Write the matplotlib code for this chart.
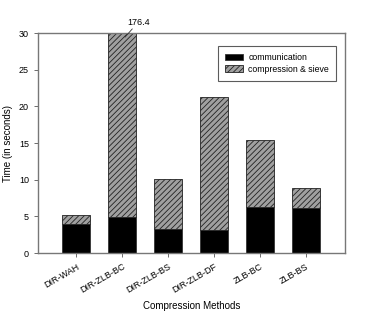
import numpy as np
import matplotlib.pyplot as plt

plt.rcParams['font.family'] = ['Liberation Sans', 'DejaVu Sans']
plt.rcParams['hatch.linewidth'] = 0.6

methods = ['DIR-WAH', 'DIR-ZLB-BC', 'DIR-ZLB-BS', 'DIR-ZLB-DF', 'ZLB-BC', 'ZLB-BS']
communication = [3.9, 4.85, 3.27, 3.2, 6.27, 6.1]
total = [5.2, 176.4, 10.15, 21.3, 15.37, 8.82]
compression = [t - c for t, c in zip(total, communication)]

fig = plt.figure(figsize=(3.74, 3.15), dpi=100)
ax = fig.add_axes([0.1016, 0.1968, 0.8209, 0.6984])

x = np.arange(len(methods))
w = 0.61
ax.bar(x, communication, w, color='black', edgecolor='#333333', linewidth=0.6,
       label='communication')
ax.bar(x, compression, w, bottom=communication, color='#a0a0a0', edgecolor='#222222',
       hatch='//////', linewidth=0.6, label='compression & sieve')

ax.set_ylim(0, 30)
ax.set_xlim(-0.83, 5.85)
ax.set_yticks([0, 5, 10, 15, 20, 25, 30])
ax.set_xticks(x)
ax.set_xticklabels(methods, rotation=30, ha='right', rotation_mode='anchor')
ax.tick_params(labelsize=6.5, direction='out', length=3, width=0.6, color='#555555')

for s in ax.spines.values():
    s.set_color('#777777')
    s.set_linewidth(1.0)

# label for the clipped bar
ax.plot([1.065, 1.22], [29.45, 30.55], color='#333333', lw=0.6, clip_on=False, zorder=5)
ax.text(1.35, 31.4, '176.4', fontsize=6.5, ha='center', va='center')

ax.set_xlabel('Compression Methods', fontsize=7)
ax.set_ylabel('Time (in seconds)', fontsize=7)

leg = ax.legend(loc='upper right', bbox_to_anchor=(0.971, 0.941), fontsize=6.3,
                frameon=True, fancybox=False, handlelength=2.06, handleheight=0.7,
                handletextpad=0.57, borderpad=0.8, labelspacing=0.3,
                borderaxespad=0)
leg.get_frame().set_edgecolor('#333333')
leg.get_frame().set_linewidth(0.8)

plt.savefig('out.png', dpi=100)
